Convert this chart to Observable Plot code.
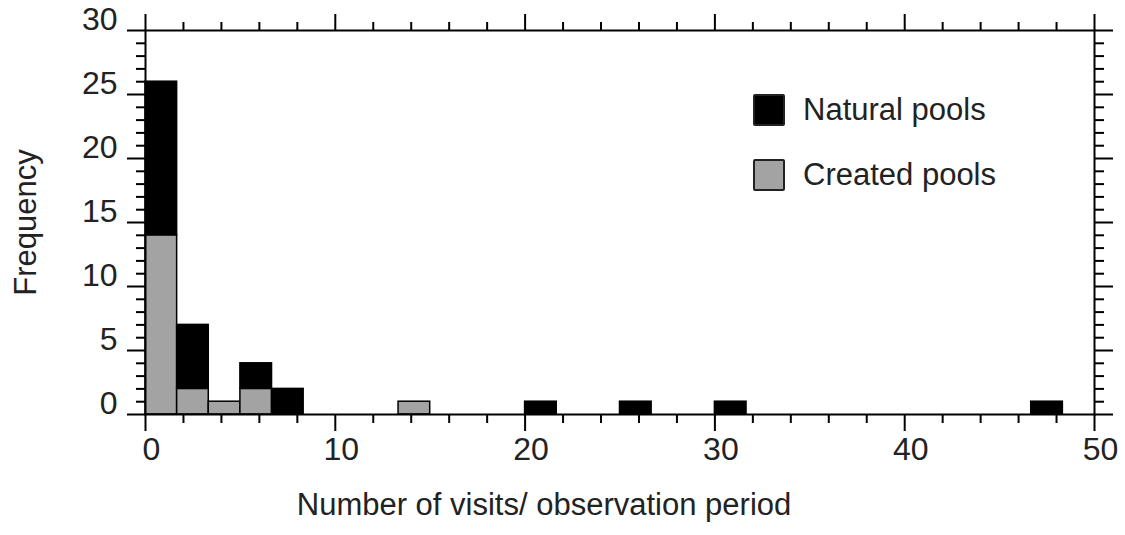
<!DOCTYPE html>
<html><head><meta charset="utf-8">
<script src="https://cdn.jsdelivr.net/npm/d3@7"></script>
<script src="https://cdn.jsdelivr.net/npm/@observablehq/plot@0.6"></script>
<style>
body{margin:0;background:#fff;font-family:"Liberation Sans",Arial,sans-serif;}
#wrap{position:relative;width:1125px;height:535px;}
.leg{position:absolute;left:753px;display:flex;align-items:center;font-size:31px;color:#222;height:32px;}
.sw{width:28px;height:28px;border:2px solid #222;border-radius:2px;margin-right:18px;}
</style></head><body><div id="wrap"></div>
<script>
// Histogram of visits per observation period, bin width 5/3
const binStart = [0, 5/3, 10/3, 5, 20/3, 40/3, 20, 25, 30, 140/3];
const binWidth = 5/3;
const natural = [12, 5, 0, 2, 2, 0, 1, 1, 1, 1];
const created = [14, 2, 1, 2, 0, 1, 0, 0, 0, 0];
const seriesNames = ["Natural pools", "Created pools"];
const seriesColors = ["#000000", "#a3a3a3"];
const xMajor = [0, 10, 20, 30, 40, 50];
const xMinor = d3.range(0, 51, 2).filter(v => v % 10 !== 0);
const yMajor = [0, 5, 10, 15, 20, 25, 30];
const yMinor = d3.range(0, 31, 1).filter(v => v % 5 !== 0);
const xTitle = "Number of visits/ observation period";
const yTitle = "Frequency";

const rows = binStart.map((b, i) => ({x1: b, x2: b + binWidth, created: created[i], natural: natural[i]}));
const blank = () => "";
const ax = {strokeWidth: 2, stroke: "#000", label: null};

const chart = Plot.plot({
  width: 1125, height: 535,
  marginLeft: 145, marginRight: 31, marginTop: 30, marginBottom: 121,
  style: {fontFamily: "Liberation Sans, Arial, sans-serif", color: "#222", background: "#fff"},
  x: {domain: [0, 50]},
  y: {domain: [0, 30]},
  marks: [
    Plot.rect(rows.filter(d => d.created > 0), {x1: "x1", x2: "x2", y1: 0, y2: "created", fill: seriesColors[1], stroke: "#000", strokeWidth: 1.5}),
    Plot.rect(rows.filter(d => d.natural > 0), {x1: "x1", x2: "x2", y1: "created", y2: d => d.created + d.natural, fill: seriesColors[0], stroke: "#000", strokeWidth: 1.5}),
    Plot.frame({stroke: "#000", strokeWidth: 2}),
    // bottom
    Plot.axisX(xMajor, {...ax, anchor: "bottom", tickSize: 17, tickFormat: blank}),
    Plot.axisX(xMinor, {...ax, anchor: "bottom", tickSize: 9, tickFormat: blank}),
    Plot.axisX(xMajor, {anchor: "bottom", tickSize: 0, tickPadding: 23, dx: 6, fontSize: 32, label: null, fill: "#222"}),
    // top
    Plot.axisX(xMajor, {...ax, anchor: "top", tickSize: 17, tickFormat: blank}),
    Plot.axisX(xMinor, {...ax, anchor: "top", tickSize: 9, tickFormat: blank}),
    // left
    Plot.axisY(yMajor, {...ax, anchor: "left", tickSize: 18, tickFormat: blank}),
    Plot.axisY(yMinor, {...ax, anchor: "left", tickSize: 9, tickFormat: blank}),
    Plot.axisY(yMajor, {anchor: "left", tickSize: 0, tickPadding: 28, dy: -11, fontSize: 32, label: null, fill: "#222"}),
    // right
    Plot.axisY(yMajor, {...ax, anchor: "right", tickSize: 18, tickFormat: blank}),
    Plot.axisY(yMinor, {...ax, anchor: "right", tickSize: 9, tickFormat: blank}),
    // titles
    Plot.text([xTitle], {text: d => d, frameAnchor: "bottom", dx: -76, dy: 91, fontSize: 31, textAnchor: "middle", lineAnchor: "middle", fill: "#222"}),
    Plot.text([yTitle], {text: d => d, frameAnchor: "left", dx: -119, rotate: -90, fontSize: 31, textAnchor: "middle", lineAnchor: "middle", fill: "#222"})
  ]
});
const wrap = document.getElementById("wrap");
wrap.appendChild(chart);
seriesNames.forEach((name, i) => {
  const el = document.createElement("div");
  el.className = "leg";
  el.style.top = (94 + i * 65) + "px";
  el.innerHTML = `<div class="sw" style="background:${seriesColors[i]}"></div><span>${name}</span>`;
  wrap.appendChild(el);
});
</script>
</body></html>
